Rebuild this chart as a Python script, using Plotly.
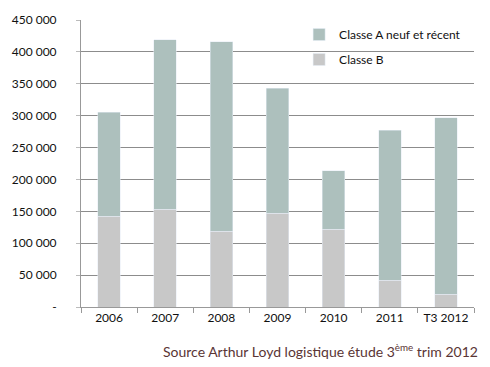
import plotly.graph_objects as go

categories = ["2006", "2007", "2008", "2009", "2010", "2011", "T3 2012"]
classe_b = [142000, 153000, 119000, 147000, 122000, 42000, 20000]
classe_a = [163000, 266000, 297000, 196000, 92000, 235000, 277000]
y_tickvals = [0, 50000, 100000, 150000, 200000, 250000, 300000, 350000, 400000, 450000]
y_ticktext = ["-", "50 000", "100 000", "150 000", "200 000", "250 000", "300 000", "350 000", "400 000", "450 000"]

fig = go.Figure()
fig.add_trace(go.Bar(x=categories, y=classe_b, name="Classe B", marker_color="#c8c8c8",
                     legendgroup="b", legendrank=2))
fig.add_trace(go.Bar(x=categories, y=classe_a, name="Classe A neuf et récent", marker_color="#adc0bd",
                     legendgroup="a", legendrank=1))

fig.update_layout(
    barmode="stack",
    bargap=0.6,
    width=490, height=367,
    margin=dict(l=75, r=16, t=15, b=60),
    plot_bgcolor="white", paper_bgcolor="white",
    font=dict(family="Lato, sans-serif", size=12, color="#111111"),
    legend=dict(x=0.555, y=1.0, xanchor="left", yanchor="top", traceorder="grouped",
                tracegroupgap=6, font=dict(size=12), bgcolor="rgba(0,0,0,0)",
                itemwidth=30),
    xaxis=dict(showline=True, linecolor="#999999", ticks="outside", tickson="boundaries",
               ticklen=5, tickcolor="#999999", tickfont=dict(size=12, color="#111111")),
    yaxis=dict(range=[0, 450000], tickvals=y_tickvals, ticktext=y_ticktext,
               showgrid=True, gridcolor="#8c8c8c", gridwidth=1,
               showline=True, linecolor="#999999", ticks="outside", ticklen=4,
               tickcolor="#bbbbbb", ticklabelstandoff=17, zeroline=False,
               tickfont=dict(size=12, color="#111111")),
    showlegend=True,
)
fig.add_annotation(text="Source Arthur Loyd logistique étude 3<sup>ème</sup> trim 2012",
                   xref="paper", yref="paper", x=1.015, y=-0.11, xanchor="right", yanchor="top",
                   showarrow=False, font=dict(family="Lato, sans-serif", size=14, color="#5a3535"))
fig.write_html("out.html", config={"displayModeBar": False},
               post_script="document.body.style.margin='0';")
